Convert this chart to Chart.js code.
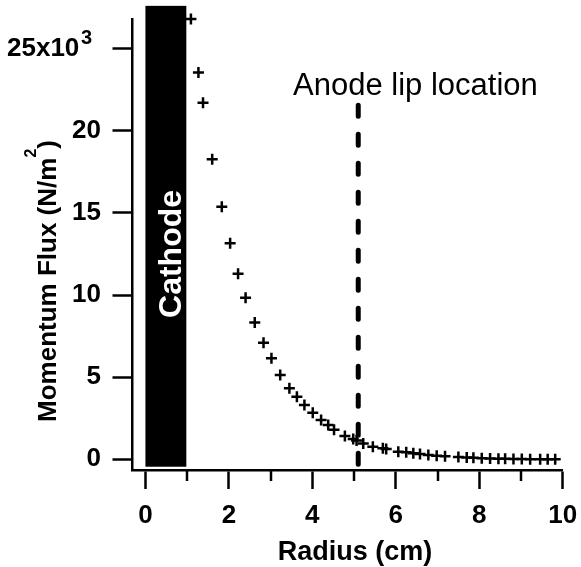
<!DOCTYPE html>
<html>
<head>
<meta charset="utf-8">
<script src="https://cdn.jsdelivr.net/npm/chart.js@4.4.1/dist/chart.umd.min.js"></script>
<style>
  body { margin: 0; background: #fff; }
  #wrap { width: 581px; height: 567px; }
</style>
</head>
<body>
<div id="wrap"><canvas id="fluxChart" width="581" height="567"></canvas></div>
<script>
// radial momentum flux profile
const radius = [1.09, 1.27, 1.38, 1.60, 1.83, 2.03, 2.22, 2.40, 2.62, 2.83,
                3.02, 3.23, 3.45, 3.63, 3.81, 4.01, 4.21, 4.38, 4.52, 4.78,
                4.98, 5.06, 5.22, 5.45, 5.69, 5.77, 6.06, 6.25, 6.42, 6.58,
                6.78, 6.98, 7.18, 7.50, 7.70, 7.86, 8.06, 8.26, 8.46, 8.62,
                8.82, 9.02, 9.22, 9.46, 9.64, 9.82];
const momentumFlux = [26800, 23550, 21700, 18270, 15380, 13150, 11290, 9840, 8320, 7100,
                      6150, 5130, 4320, 3810, 3310, 2840, 2390, 2090, 1800, 1420,
                      1240, 1150, 970, 770, 670, 630, 460, 430, 370, 330,
                      260, 220, 180, 140, 110, 90, 70, 50, 40, 30,
                      20, 20, 10, 10, 0, 0];
const xTickValues = [0, 1, 2, 3, 4, 5, 6, 7, 8, 9, 10];
const yTickValues = [0, 5000, 10000, 15000, 20000, 25000];

// cathode body (cm) and anode lip position (cm)
const cathodeSpan = [0, 0.98];
const cathodeFlux = [-450, 27600];
const anodeLip = 5.1;
const anodeFlux = [-620, 21700];

const FONT = '"Liberation Sans", Arial, Helvetica, sans-serif';

// keep the plot frame fixed instead of growing around edge labels
function noEdgePadding(scale) {
  scale.paddingLeft = 0;
  scale.paddingRight = 0;
  scale.paddingTop = 0;
  scale.paddingBottom = 0;
}

const decorations = {
  id: 'decorations',
  beforeDatasetsDraw(chart) {
    const { ctx, scales: { x, y } } = chart;
    ctx.save();

    // cathode block
    const cx0 = x.getPixelForValue(cathodeSpan[0]);
    const cx1 = x.getPixelForValue(cathodeSpan[1]);
    const cyTop = y.getPixelForValue(cathodeFlux[1]);
    const cyBot = y.getPixelForValue(cathodeFlux[0]);
    ctx.fillStyle = '#000';
    ctx.fillRect(cx0, cyTop, cx1 - cx0, cyBot - cyTop);

    ctx.save();
    ctx.translate(cx1 - 5, y.getPixelForValue(12500));
    ctx.rotate(-Math.PI / 2);
    ctx.fillStyle = '#fff';
    ctx.font = 'bold 32px ' + FONT;
    ctx.textAlign = 'center';
    ctx.textBaseline = 'alphabetic';
    ctx.fillText('Cathode', 0, 0);
    ctx.restore();

    // anode lip marker
    const ax = x.getPixelForValue(anodeLip);
    ctx.strokeStyle = '#000';
    ctx.lineWidth = 5;
    ctx.lineCap = 'round';
    ctx.setLineDash([11, 18]);
    ctx.beginPath();
    ctx.moveTo(ax, y.getPixelForValue(anodeFlux[1]) + 2.5);
    ctx.lineTo(ax, y.getPixelForValue(anodeFlux[0]));
    ctx.stroke();
    ctx.setLineDash([]);

    ctx.fillStyle = '#000';
    ctx.font = '31px ' + FONT;
    ctx.textAlign = 'center';
    ctx.textBaseline = 'alphabetic';
    ctx.fillText('Anode lip location', x.getPixelForValue(6.47), y.getPixelForValue(22190));
    ctx.restore();
  },
  afterDraw(chart) {
    const { ctx, chartArea, scales: { x, y } } = chart;
    ctx.save();
    ctx.strokeStyle = '#000';
    ctx.fillStyle = '#000';

    // minor ticks on the radius axis
    ctx.lineWidth = 2.5;
    xTickValues.filter(v => v % 2).forEach(v => {
      const px = Math.round(x.getPixelForValue(v));
      ctx.beginPath();
      ctx.moveTo(px, chartArea.bottom);
      ctx.lineTo(px, chartArea.bottom + 11);
      ctx.stroke();
    });

    // exponent on the top flux tick
    ctx.font = 'bold 20px ' + FONT;
    ctx.textAlign = 'left';
    ctx.textBaseline = 'alphabetic';
    ctx.fillText('3', 81, y.getPixelForValue(25000) - 5);

    // radius axis title
    ctx.font = 'bold 27px ' + FONT;
    ctx.textAlign = 'center';
    ctx.fillText('Radius (cm)', x.getPixelForValue(5.02), 560);

    // flux axis title with superscript
    ctx.translate(47, 281);
    ctx.rotate(-Math.PI / 2);
    const main = 'Momentum Flux (N/m';
    const sup = '2';
    const tail = ')';
    ctx.font = 'bold 26px ' + FONT;
    const w1 = ctx.measureText(main).width;
    const w3 = ctx.measureText(tail).width;
    ctx.font = 'bold 16px ' + FONT;
    const w2 = ctx.measureText(sup).width;
    let pos = -(w1 + w2 + w3) / 2;
    ctx.textAlign = 'left';
    ctx.font = 'bold 26px ' + FONT;
    ctx.fillText(main, pos, 9);
    pos += w1;
    ctx.font = 'bold 16px ' + FONT;
    ctx.fillText(sup, pos, -11);
    pos += w2;
    ctx.font = 'bold 26px ' + FONT;
    ctx.fillText(tail, pos, 9);
    ctx.restore();
  }
};

new Chart(document.getElementById('fluxChart'), {
  type: 'scatter',
  data: {
    datasets: [{
      data: radius.map((r, i) => ({ x: r, y: momentumFlux[i] })),
      pointStyle: 'cross',
      pointRadius: 5.5,
      pointHoverRadius: 5.5,
      pointBorderColor: '#000',
      pointBorderWidth: 2.5,
      pointBackgroundColor: '#000',
      clip: false
    }]
  },
  options: {
    responsive: false,
    animation: false,
    devicePixelRatio: 1,
    layout: { padding: { left: 0, right: 18.3, top: 19, bottom: 0 } },
    plugins: {
      legend: { display: false },
      tooltip: { enabled: false }
    },
    scales: {
      x: {
        type: 'linear',
        min: -0.31,
        max: 10,
        afterFit(scale) { scale.height = 97; noEdgePadding(scale); },
        afterBuildTicks(scale) { scale.ticks = xTickValues.map(v => ({ value: v })); },
        border: { display: true, color: '#000', width: 2.5 },
        grid: {
          display: true,
          drawOnChartArea: false,
          drawTicks: true,
          tickLength: 19,
          tickWidth: 2.5,
          tickColor: (c) => (c.tick && c.tick.value % 2) ? 'rgba(0,0,0,0)' : '#000'
        },
        ticks: {
          color: '#000',
          font: { family: FONT, size: 26, weight: 'bold' },
          padding: 11,
          maxRotation: 0,
          autoSkip: false,
          callback: (v) => (v % 2 ? '' : v)
        }
      },
      y: {
        type: 'linear',
        min: -650,
        max: 26800,
        afterFit(scale) { scale.width = 132.5; noEdgePadding(scale); },
        afterBuildTicks(scale) { scale.ticks = yTickValues.map(v => ({ value: v })); },
        border: { display: true, color: '#000', width: 2.5 },
        grid: {
          display: true,
          drawOnChartArea: false,
          drawTicks: true,
          tickLength: 20,
          tickWidth: 2.5,
          tickColor: '#000'
        },
        ticks: {
          color: '#000',
          font: { family: FONT, size: 26, weight: 'bold' },
          padding: 11.5,
          autoSkip: false,
          callback: (v) => (v === 25000 ? '25x10   ' : v / 1000)
        }
      }
    }
  },
  plugins: [decorations]
});
</script>
</body>
</html>
